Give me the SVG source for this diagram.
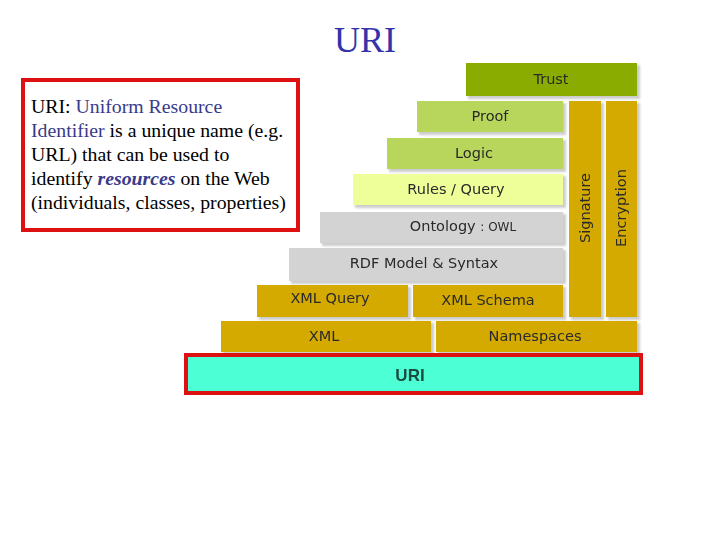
<svg xmlns="http://www.w3.org/2000/svg" width="720" height="540" viewBox="0 0 720 540">
<style>
.lbl{font-family:"DejaVu Sans",Verdana,sans-serif;font-size:14.5px;fill:#2a2a2a;text-anchor:middle}
.body{font-family:"Liberation Serif","Times New Roman",serif;font-size:19.8px;fill:#000}
.blue{fill:#3a3a8a}
.sh{fill:#999;opacity:0.5}
</style>
<defs>
<filter id="blur"><feGaussianBlur stdDeviation="1"/></filter>
</defs>
<rect width="720" height="540" fill="#fff"/>
<text x="365" y="52" font-family="Liberation Serif,serif" font-size="36" fill="#3333aa" text-anchor="middle">URI</text>

<g id="desc">
<rect x="23" y="80" width="275" height="150" fill="#fff" stroke="#dd1111" stroke-width="4"/>
<text class="body" x="31" y="113">URI: <tspan class="blue">Uniform Resource</tspan></text>
<text class="body" x="31" y="137"><tspan class="blue">Identifier</tspan> is a unique name (e.g.</text>
<text class="body" x="31" y="161">URL) that can be used to</text>
<text class="body" x="31" y="185">identify <tspan class="blue" font-weight="bold" font-style="italic">resources</tspan> on the Web</text>
<text class="body" x="31" y="209">(individuals, classes, properties)</text>
</g>

<g id="shadows" filter="url(#blur)">
<rect class="sh" x="468" y="65" width="172" height="34"/>
<rect class="sh" x="419" y="103" width="147" height="32"/>
<rect class="sh" x="389" y="140" width="177" height="32"/>
<rect class="sh" x="355" y="176" width="211" height="32"/>
<rect class="sh" x="322" y="214" width="244" height="32"/>
<rect class="sh" x="291" y="250" width="275" height="34"/>
<rect class="sh" x="259" y="287" width="152" height="33"/>
<rect class="sh" x="415" y="287" width="151" height="33"/>
<rect class="sh" x="571" y="103" width="33" height="217"/>
<rect class="sh" x="608" y="103" width="32" height="217"/>
<rect class="sh" x="223" y="323" width="211" height="32"/>
<rect class="sh" x="438" y="323" width="202" height="32"/>
</g>

<g id="trust"><rect x="466" y="63" width="171" height="33" fill="#8aac00"/><text class="lbl" x="551" y="84">Trust</text></g>
<g id="proof"><rect x="417" y="101" width="146" height="31" fill="#b8d65c"/><text class="lbl" x="490" y="121">Proof</text></g>
<g id="logic"><rect x="387" y="138" width="176" height="31" fill="#b8d65c"/><text class="lbl" x="474" y="158">Logic</text></g>
<g id="rules"><rect x="353" y="174" width="210" height="31" fill="#eeff99"/><text class="lbl" x="456" y="194">Rules / Query</text></g>
<g id="ontology"><rect x="320" y="212" width="243" height="31" fill="#d3d3d3"/><text class="lbl" x="463" y="231">Ontology <tspan font-size="12">: OWL</tspan></text></g>
<g id="rdf"><rect x="289" y="248" width="274" height="33" fill="#d3d3d3"/><text class="lbl" x="424" y="268">RDF Model &amp; Syntax</text></g>
<g id="xmlquery"><rect x="257" y="285" width="151" height="32" fill="#d4aa00"/><text class="lbl" x="330" y="303">XML Query</text></g>
<g id="xmlschema"><rect x="413" y="285" width="150" height="32" fill="#d4aa00"/><text class="lbl" x="488" y="305">XML Schema</text></g>
<g id="signature"><rect x="569" y="101" width="32" height="216" fill="#d4aa00"/><text class="lbl" transform="translate(590,208) rotate(-90)">Signature</text></g>
<g id="encryption"><rect x="606" y="101" width="31" height="216" fill="#d4aa00"/><text class="lbl" transform="translate(626,208) rotate(-90)">Encryption</text></g>
<g id="xml"><rect x="221" y="321" width="210" height="31" fill="#d4aa00"/><text class="lbl" x="324" y="341">XML</text></g>
<g id="namespaces"><rect x="436" y="321" width="201" height="31" fill="#d4aa00"/><text class="lbl" x="535" y="341">Namespaces</text></g>

<g id="uri">
<rect x="186" y="355" width="455" height="38" fill="#4dffd4" stroke="#dd1111" stroke-width="4"/>
<text x="410" y="381" font-family="Liberation Sans,Arial,sans-serif" font-size="17" font-weight="bold" fill="#1a4a40" text-anchor="middle">URI</text>
</g>
<g id="connectors"/>
</svg>
